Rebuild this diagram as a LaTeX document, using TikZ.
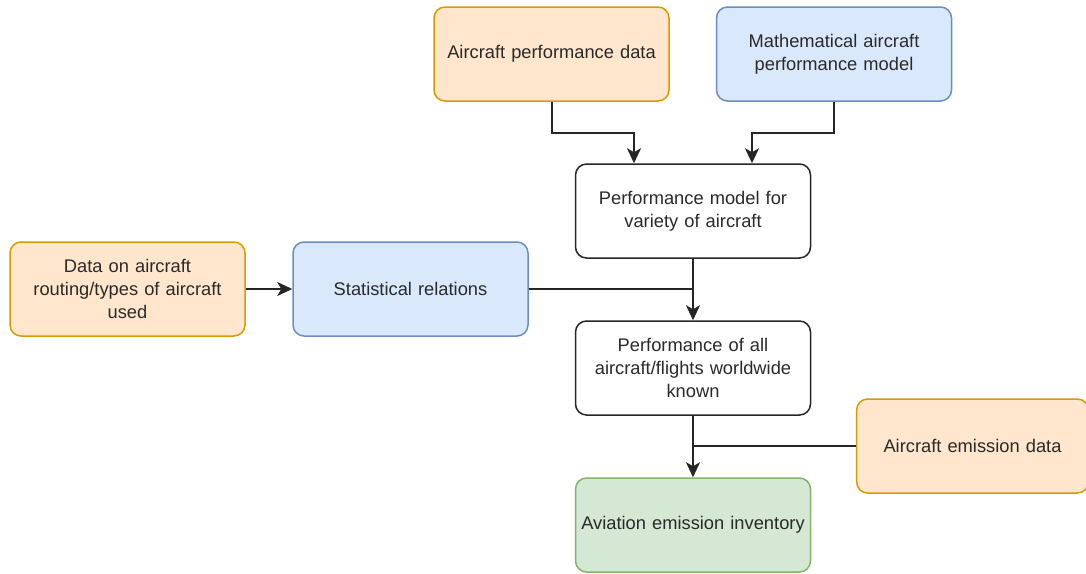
\documentclass[tikz,border=0pt]{standalone}
\usepackage{fontspec}
\setmainfont{Liberation Sans}
\usetikzlibrary{arrows.meta}
\definecolor{orgfill}{HTML}{FFE6CC}
\definecolor{orgline}{HTML}{D79B00}
\definecolor{bluefill}{HTML}{DAE8FC}
\definecolor{blueline}{HTML}{6C8EBF}
\definecolor{grnfill}{HTML}{D5E8D4}
\definecolor{grnline}{HTML}{82B366}
\definecolor{txt}{HTML}{2A2A2A}
\tikzset{
  box/.style={draw, rounded corners=11pt, line width=1.5pt,
    minimum width=235pt, minimum height=94pt, align=center,
    text width=225pt, text=txt,
    font=\fontsize{18.3}{23}\selectfont},
  orgbox/.style={box, fill=orgfill, draw=orgline},
  bluebox/.style={box, fill=bluefill, draw=blueline},
  grnbox/.style={box, fill=grnfill, draw=grnline},
  plainbox/.style={box, fill=white, draw=black!85},
  conn/.style={line width=2pt, draw=black!85},
  arr/.style={conn, -{Stealth[length=15pt,width=14pt,inset=4pt]}},
}
\begin{document}
\begin{tikzpicture}[x=1pt,y=-1pt]
  \useasboundingbox (0,0) rectangle (1086,573);

  \node[orgbox]   (apd)  at (551.5,54)  {Aircraft performance data};
  \node[bluebox]  (math) at (834,54)    {Mathematical aircraft\\performance model};
  \node[plainbox] (pmv)  at (693,211)   {Performance model for\\variety of aircraft};
  \node[orgbox]   (rout) at (127.5,289) {Data on aircraft\\routing/types of aircraft\\used};
  \node[bluebox]  (stat) at (410.5,289) {Statistical relations};
  \node[plainbox] (pall) at (693,368)   {Performance of all\\aircraft/flights worldwide\\known};
  \node[orgbox, minimum width=230pt] (emd) at (972.5,446) {Aircraft emission data};
  \node[grnbox]   (inv)  at (693,525)   {Aviation emission inventory};

  \coordinate (j1) at (693,289);
  \coordinate (j2) at (693,446);

  \draw[arr] (apd.south) -- ++(0,31) -| ([xshift=-59pt]pmv.north);
  \draw[arr] (math.south) -- ++(0,31) -| ([xshift=59pt]pmv.north);
  \draw[arr] (rout.east) -- (stat.west);
  \draw[conn] (stat.east) -- (j1);
  \draw[arr] (pmv.south) -- (pall.north);
  \draw[conn] (emd.west) -- (j2);
  \draw[arr] (pall.south) -- (inv.north);
\end{tikzpicture}
\end{document}
